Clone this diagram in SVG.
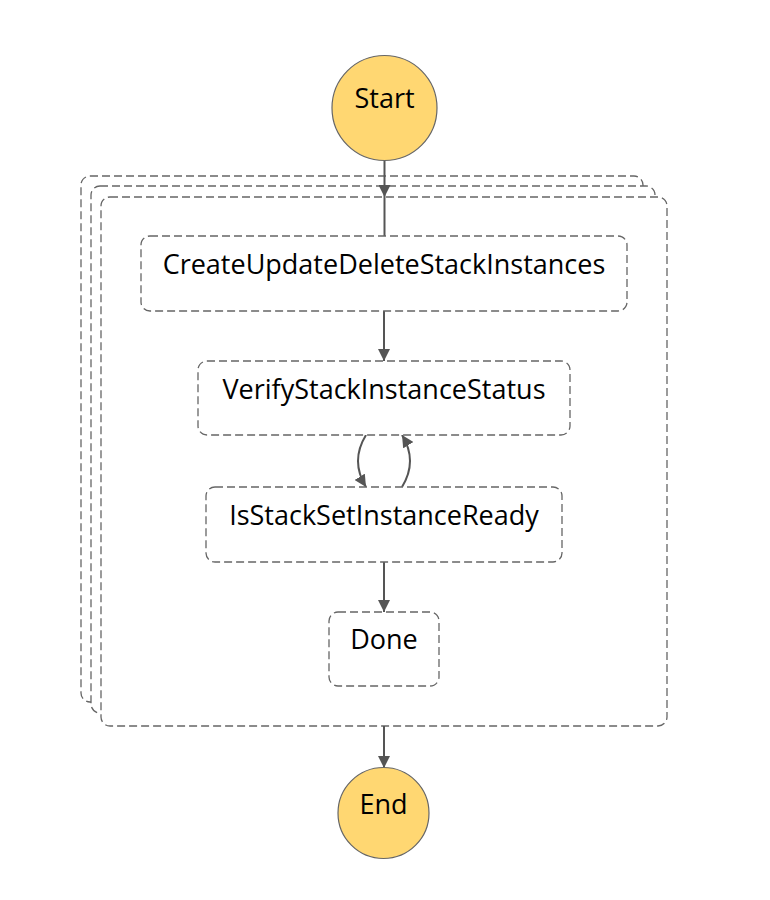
<svg xmlns="http://www.w3.org/2000/svg" width="770" height="900" viewBox="0 0 770 900">
<style>
.frame{fill:#fff;stroke:#666;stroke-width:1.3;stroke-dasharray:8 4}
.state{fill:#fff;stroke:#666;stroke-width:1.3;stroke-dasharray:8 4}
.term{fill:#FFD772;stroke:#666;stroke-width:1.2}
.lbl{font-family:"Open Sans","Noto Sans",sans-serif;font-size:27px;font-weight:500;fill:#000;text-anchor:middle}
.conn{fill:none;stroke:#555;stroke-width:2}
</style>
<defs>
<marker id="ah" viewBox="0 0 12 12" refX="12" refY="6" markerWidth="12" markerHeight="12" markerUnits="userSpaceOnUse" orient="auto">
<path d="M0,0 L12,6 L0,12 z" fill="#555"/>
</marker>
</defs>
<rect width="770" height="900" fill="#fff"/>
<g id="map-frames">
<rect class="frame" x="81" y="176" width="562" height="526" rx="9"/>
<rect class="frame" x="91" y="186" width="564" height="527" rx="9"/>
<rect class="frame" x="101" y="197" width="566" height="529" rx="9"/>
</g>
<g id="connectors">
<path class="conn" d="M384.5,160 L384.5,197" marker-end="url(#ah)"/>
<path class="conn" d="M384.5,197 L384.5,237"/>
<path class="conn" d="M384,311 L384,361" marker-end="url(#ah)"/>
<path class="conn" d="M366,435 Q350,461 366,487" marker-end="url(#ah)"/>
<path class="conn" d="M402,487 Q418,461 402,435" marker-end="url(#ah)"/>
<path class="conn" d="M384,562 L384,612" marker-end="url(#ah)"/>
<path class="conn" d="M384,726 L384,768" marker-end="url(#ah)"/>
</g>
<g id="start">
<circle class="term" cx="384.5" cy="108" r="52.5"/>
<text class="lbl" x="384.5" y="108">Start</text>
</g>
<g id="create">
<rect class="state" x="141" y="236" width="486" height="75" rx="9"/>
<text class="lbl" x="384" y="274">CreateUpdateDeleteStackInstances</text>
</g>
<g id="verify">
<rect class="state" x="198" y="361" width="372" height="74" rx="9"/>
<text class="lbl" x="384" y="399">VerifyStackInstanceStatus</text>
</g>
<g id="isready">
<rect class="state" x="206" y="487" width="356" height="75" rx="9"/>
<text class="lbl" x="384" y="525">IsStackSetInstanceReady</text>
</g>
<g id="done">
<rect class="state" x="329" y="612" width="110" height="74" rx="9"/>
<text class="lbl" x="384" y="649">Done</text>
</g>
<g id="end">
<circle class="term" cx="383.5" cy="813" r="45.5"/>
<text class="lbl" x="383.5" y="814">End</text>
</g>
</svg>
